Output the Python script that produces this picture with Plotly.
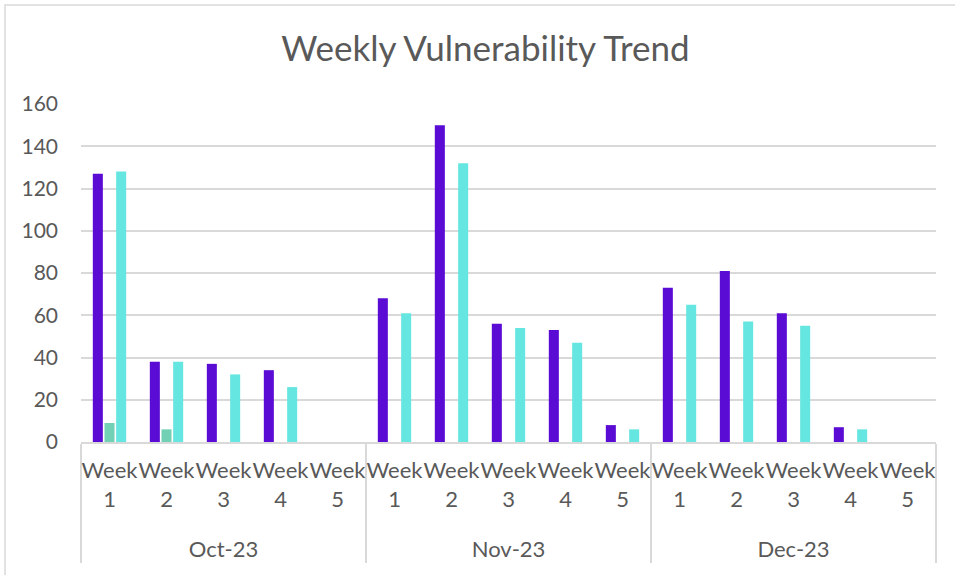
import plotly.graph_objects as go

months = ["<br>Oct-23"] * 5 + ["<br>Nov-23"] * 5 + ["<br>Dec-23"] * 5
weeks = ["Week<br>1", "Week<br>2", "Week<br>3", "Week<br>4", "Week<br>5"] * 3

series_a = [127, 38, 37, 34, None, 68, 150, 56, 53, 8, 73, 81, 61, 7, None]
series_b = [9, 6, None, None, None, None, None, None, None, None, None, None, None, None, None]
series_c = [128, 38, 32, 26, None, 61, 132, 54, 47, 6, 65, 57, 55, 6, None]

colors = ["#5A0BD4", "#72D1B4", "#66E6E0"]
names = ["Series 1", "Series 2", "Series 3"]

FONT = "Lato"
TXT = "#595959"
GRID = "#D9D9D9"

fig = go.Figure()
for name, vals, col in zip(names, [series_a, series_b, series_c], colors):
    fig.add_trace(go.Bar(
        x=[months, weeks], y=vals, name=name,
        marker=dict(color=col, line=dict(width=0)),
    ))

fig.update_layout(
    width=955, height=575,
    margin=dict(l=81, r=19, t=104, b=133, autoexpand=False),
    paper_bgcolor="white", plot_bgcolor="white",
    barmode="group", bargap=0.386, bargroupgap=0.14,
    showlegend=False,
    font=dict(family=FONT, color=TXT, size=22),
    title=dict(text="Weekly Vulnerability Trend", x=0.473, xref="paper", xanchor="center",
               y=1 - 49 / 575, yref="container", yanchor="middle",
               font=dict(family=FONT, size=35, color=TXT)),
    xaxis=dict(
        type="multicategory", automargin=False,
        showline=True, linecolor=GRID, linewidth=2,
        showgrid=False, ticks="", tickangle=0,
        ticklabelstandoff=8,
        showdividers=True, dividercolor=GRID, dividerwidth=2,
        tickfont=dict(family=FONT, size=22, color=TXT),
    ),
    yaxis=dict(
        range=[0, 160], dtick=20, tick0=0, automargin=False,
        showgrid=True, gridcolor=GRID, gridwidth=1.5,
        zeroline=False, showline=False, ticks="",
        ticklabelstandoff=22,
        tickfont=dict(family=FONT, size=21, color=TXT),
    ),
    shapes=[dict(type="rect", xref="paper", yref="paper",
                 x0=(5 - 81) / 855, x1=1 + 40 / 855, y0=-1, y1=1 + (104 - 5) / 338,
                 line=dict(color="#D9D9D9", width=1.5), fillcolor="rgba(0,0,0,0)",
                 layer="below")],
)

fig.write_html(
    "out.html",
    config={"displayModeBar": False},
    post_script="document.body.style.margin='0';document.body.style.overflow='hidden';",
)
